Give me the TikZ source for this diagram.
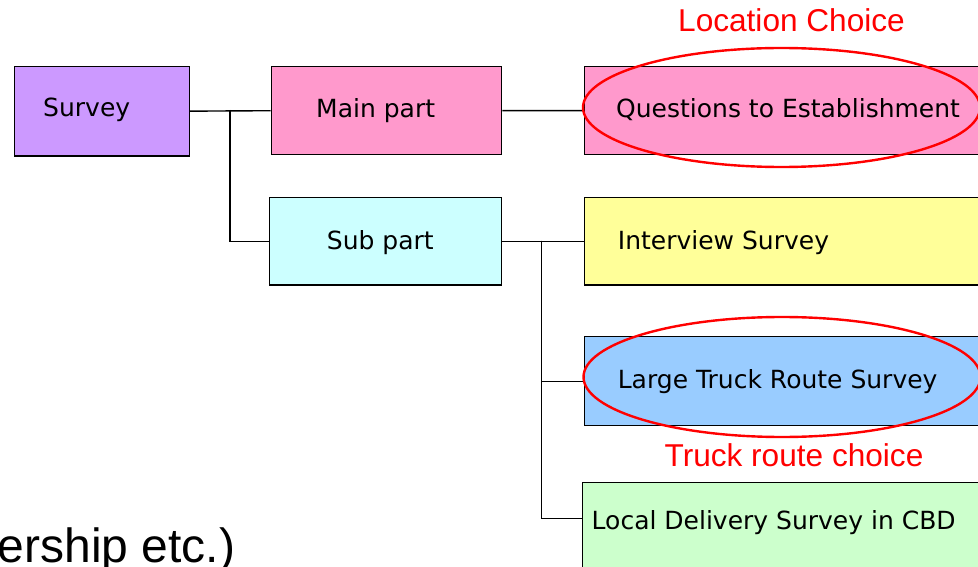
\documentclass[tikz,border=0pt]{standalone}
\usepackage{fontspec}
\setmainfont{DejaVu Sans}
\newfontfamily\arialf{Liberation Sans}
\usetikzlibrary{shapes.geometric}
\definecolor{cpurple}{HTML}{CC99FF}
\definecolor{cpink}{HTML}{FF99CC}
\definecolor{ccyan}{HTML}{CCFFFF}
\definecolor{cyellow}{HTML}{FFFF99}
\definecolor{cblue}{HTML}{99CCFF}
\definecolor{cgreen}{HTML}{CCFFCC}
\tikzset{
  boxnode/.style={draw=black, line width=1.4pt, rectangle, inner sep=0pt, anchor=north west},
  boxtext/.style={inner sep=0pt, font=\fontsize{25}{30}\selectfont, text=black},
  conn/.style={draw=black, line width=1.4pt},
  redring/.style={draw=red, line width=2.4pt, ellipse, inner sep=0pt},
  redtext/.style={inner sep=0pt, anchor=base, text=red, font=\arialf\fontsize{31.6}{36}\selectfont},
}
\begin{document}
\begin{tikzpicture}[x=1pt, y=-1pt]
\useasboundingbox (0,0) rectangle (978,567);
% boxes
\node[boxnode, fill=cpurple, minimum width=174.5pt, minimum height=89.5pt] (survey) at (14,65.7) {};
\node[boxnode, fill=cpink, minimum width=230.3pt, minimum height=88pt] (main) at (270.7,66) {};
\node[boxnode, fill=ccyan, minimum width=232pt, minimum height=87.3pt] (sub) at (269,197) {};
\node[boxnode, fill=cpink, minimum width=420pt, minimum height=88.3pt] (qte) at (583.7,65.7) {};
\node[boxnode, fill=cyellow, minimum width=420pt, minimum height=87.3pt] (interview) at (583.7,197) {};
\node[boxnode, fill=cblue, minimum width=420pt, minimum height=89pt] (truck) at (583.5,336) {};
\node[boxnode, fill=cgreen, minimum width=420pt, minimum height=120pt] (local) at (582,481.7) {};
% box texts
\node[boxtext, anchor=base west] (tsurvey) at (43,116.7) {Survey};
\node[boxtext, anchor=base west] (tmain) at (316,118) {Main part};
\node[boxtext, anchor=base west] (tsub) at (326.7,249) {Sub part};
\node[boxtext, anchor=base west] (tqte) at (616,118) {Questions to Establishment};
\node[boxtext, anchor=base west] (tinterview) at (617.7,249) {Interview Survey};
\node[boxtext, anchor=base west] (ttruck) at (617.6,388) {Large Truck Route Survey};
\node[boxtext, anchor=base west] (tlocal) at (591.5,529) {Local Delivery Survey in CBD};
% connectors
\coordinate (j1) at (230,110);
\coordinate (j2) at (541.5,240.7);
\draw[conn] (survey.east) -- (main.west);
\draw[conn] (j1) |- (sub.west);
\draw[conn] (main.east) -- (qte.west);
\draw[conn] (sub.east) -- (interview.west);
\draw[conn] (j2) |- (truck.west);
\draw[conn] (j2) |- ([yshift=-36.6pt]local.north west);
% red annotations
\node[redring, minimum width=397pt, minimum height=119pt] (ring1) at (781.5,107.5) {};
\node[redring, minimum width=397pt, minimum height=120pt] (ring2) at (782,377) {};
\node[redtext] (loc) at (791.5,31.6) {Location Choice};
\node[redtext] (route) at (794,466) {Truck route choice};
% cut-off text
\node[inner sep=0pt, anchor=base west, font=\arialf\fontsize{48}{56}\selectfont] (tail) at (-2.5,562) {ership etc.)};
\end{tikzpicture}
\end{document}
